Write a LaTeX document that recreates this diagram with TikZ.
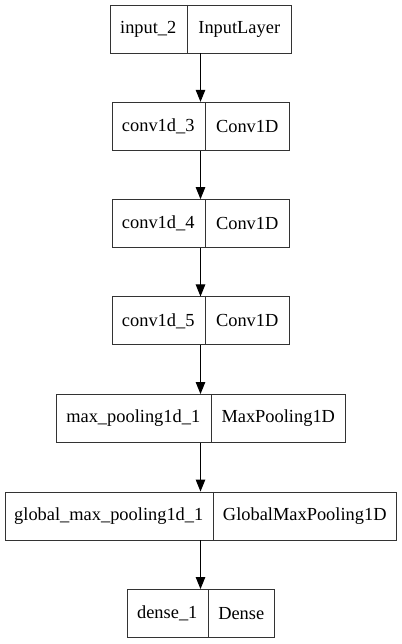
\documentclass[tikz,border=0pt]{standalone}
\usepackage{fontspec}
\setmainfont{Liberation Serif}
\usetikzlibrary{arrows.meta}

\tikzset{
  record/.style={rectangle, inner sep=0pt, minimum height=48pt,
                 draw=black!80, line width=0.9pt},
  cell/.style={rectangle, draw=none, inner sep=0pt, minimum height=48pt,
               font=\fontsize{18.4pt}{21pt}\selectfont},
  divider/.style={draw=black!80, line width=0.9pt},
  flow/.style={draw=black, line width=1pt,
               -{Triangle[length=12pt,width=9.5pt]}}
}

% one layer: #1 name, #2 centre x, #3 top y, #4 total width, #5 left width, #6 left text, #7 right text
\newcommand{\layerbox}[7]{%
  \node[record, minimum width=#4pt] (#1) at (#2, #3+24) {};
  \node[cell, minimum width=#5pt, anchor=west] (#1a) at (#1.west) {#6};
  \pgfmathsetmacro{\rw}{#4-#5}
  \node[cell, minimum width=\rw pt, anchor=east] (#1b) at (#1.east) {#7};
  \draw[divider] (#1a.north east) -- (#1a.south east);
}

\begin{document}
\begin{tikzpicture}[x=1pt, y=-1pt]
  \useasboundingbox (0,0) rectangle (401,644);

  \layerbox{l1}{200.5}{5}{181}{77}{input\_2}{InputLayer}
  \layerbox{l2}{200.5}{102.3}{177}{93}{conv1d\_3}{Conv1D}
  \layerbox{l3}{200.5}{199.6}{177}{93}{conv1d\_4}{Conv1D}
  \layerbox{l4}{200.5}{296.9}{177}{93}{conv1d\_5}{Conv1D}
  \layerbox{l5}{200.5}{394.5}{289}{155}{max\_pooling1d\_1}{MaxPooling1D}
  \layerbox{l6}{200.5}{492}{391}{208}{global\_max\_pooling1d\_1}{GlobalMaxPooling1D}
  \layerbox{l7}{200.5}{589.5}{147}{81}{dense\_1}{Dense}

  \draw[flow] (l1.south) -- (l2.north);
  \draw[flow] (l2.south) -- (l3.north);
  \draw[flow] (l3.south) -- (l4.north);
  \draw[flow] (l4.south) -- (l5.north);
  \draw[flow] (l5.south) -- (l6.north);
  \draw[flow] (l6.south) -- (l7.north);
\end{tikzpicture}
\end{document}
